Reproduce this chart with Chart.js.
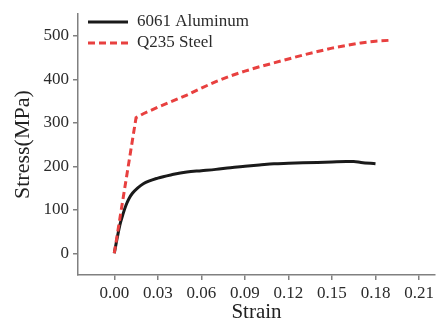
<!DOCTYPE html>
<html>
<head>
<meta charset="utf-8">
<script src="https://cdn.jsdelivr.net/npm/chart.js@4/dist/chart.umd.min.js"></script>
<style>
  html, body { margin: 0; padding: 0; background: #fff; }
  #wrap { width: 440px; height: 325px; }
</style>
</head>
<body>
<div id="wrap"><canvas id="chart" width="440" height="325"></canvas></div>
<script>
// values
const seriesNames = ['6061 Aluminum', 'Q235 Steel'];

const aluStrain = [0, 0.002, 0.004, 0.006, 0.008, 0.010, 0.0125, 0.016, 0.020, 0.030, 0.040,
                   0.050, 0.060, 0.070, 0.080, 0.090, 0.100, 0.110, 0.120, 0.130, 0.140,
                   0.150, 0.160, 0.165, 0.170, 0.180];
const aluStress = [0, 35, 67, 90, 110, 125, 138, 150, 160, 173, 181,
                   187, 190, 193, 197, 200, 203, 206, 207, 208, 209,
                   210, 211, 211, 209, 206];

const steelStrain = [0, 0.015, 0.020, 0.030, 0.040, 0.050, 0.060, 0.070, 0.080, 0.090, 0.100,
                     0.110, 0.120, 0.130, 0.140, 0.150, 0.160, 0.170, 0.180, 0.190];
const steelStress = [0, 312, 321, 336, 350, 364, 380, 395, 408, 419, 429,
                     438, 447, 456, 464, 472, 478, 484, 488, 490];

const xTicks = [0, 0.03, 0.06, 0.09, 0.12, 0.15, 0.18, 0.21];
const yTicks = [0, 100, 200, 300, 400, 500];

const toPoints = (xs, ys) => xs.map((x, i) => ({ x: x, y: ys[i] }));

const axisColor = '#808080';
const textColor = '#2b2b2b';
const serif = "'Liberation Serif', 'Times New Roman', serif";

// legend drawn inside the plot, top-left, with long line samples
const insideLegend = {
    id: 'insideLegend',
    afterDatasetsDraw(chart) {
        const ctx = chart.ctx;
        const left = chart.chartArea.left + 10;
        ctx.save();
        chart.data.datasets.forEach((ds, i) => {
            const y = 22 + i * 21;
            ctx.beginPath();
            ctx.setLineDash(ds.borderDash || []);
            ctx.lineWidth = ds.borderWidth;
            ctx.strokeStyle = ds.borderColor;
            ctx.moveTo(left, y);
            ctx.lineTo(left + 40, y);
            ctx.stroke();
            ctx.setLineDash([]);
            ctx.font = '17px ' + serif;
            ctx.fillStyle = textColor;
            ctx.textAlign = 'left';
            ctx.textBaseline = 'middle';
            ctx.fillText(ds.label, left + 49, y);
        });
        ctx.restore();
    }
};

new Chart(document.getElementById('chart'), {
    type: 'scatter',
    data: {
        datasets: [{
            label: seriesNames[0],
            data: toPoints(aluStrain, aluStress),
            showLine: true,
            borderColor: '#1a1a1a',
            borderWidth: 3,
            pointRadius: 0,
            cubicInterpolationMode: 'monotone',
            order: 2
        }, {
            label: seriesNames[1],
            data: toPoints(steelStrain, steelStress),
            showLine: true,
            borderColor: '#e8403f',
            borderWidth: 3,
            borderDash: [7, 4],
            pointRadius: 0,
            tension: 0,
            order: 1
        }]
    },
    options: {
        responsive: false,
        animation: false,
        layout: { padding: { top: 8, right: 5, left: 0, bottom: 0 } },
        plugins: {
            legend: { display: false },
            tooltip: { enabled: false }
        },
        scales: {
            x: {
                type: 'linear',
                min: -0.025,
                max: 0.221,
                afterBuildTicks: (axis) => { axis.ticks = xTicks.map(v => ({ value: v })); },
                afterFit: (axis) => { axis.height = 50; },
                border: { display: true, color: axisColor, width: 1.5 },
                grid: { display: true, drawOnChartArea: false, drawTicks: true, tickLength: 5, color: axisColor, lineWidth: 1.5 },
                ticks: {
                    color: textColor,
                    font: { family: serif, size: 17 },
                    padding: 3,
                    maxRotation: 0,
                    callback: (v) => v.toFixed(2)
                },
                title: {
                    display: true,
                    text: 'Strain',
                    color: '#222',
                    font: { family: serif, size: 21 },
                    padding: { top: 0, bottom: 0 }
                }
            },
            y: {
                type: 'linear',
                min: -50,
                max: 550,
                afterBuildTicks: (axis) => { axis.ticks = yTicks.map(v => ({ value: v })); },
                afterFit: (axis) => { axis.width = 78; },
                border: { display: true, color: axisColor, width: 1.5 },
                grid: { display: true, drawOnChartArea: false, drawTicks: true, tickLength: 5, color: axisColor, lineWidth: 1.5 },
                ticks: {
                    color: textColor,
                    font: { family: serif, size: 17 },
                    padding: 4,
                    callback: (v) => String(v)
                },
                title: {
                    display: true,
                    text: 'Stress(MPa)',
                    color: '#222',
                    font: { family: serif, size: 22 },
                    padding: { top: 10, bottom: 4 }
                }
            }
        }
    },
    plugins: [insideLegend]
});
</script>
</body>
</html>
